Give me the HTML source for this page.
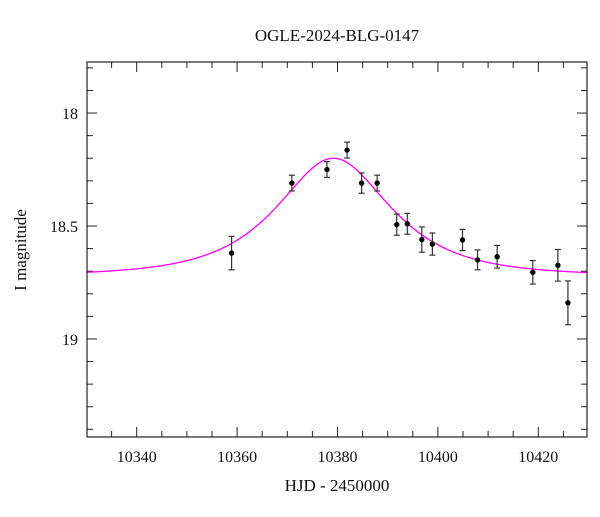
<!DOCTYPE html>
<html><head><meta charset="utf-8"><style>
html,body{margin:0;padding:0;background:#fff;}
svg text{font-family:"Liberation Serif",serif;fill:#111;}
</style></head><body>
<svg id="chart" width="600" height="512" viewBox="0 0 600 512" xmlns="http://www.w3.org/2000/svg">
<text x="337" y="41" font-size="17" text-anchor="middle">OGLE-2024-BLG-0147</text>
<text x="337" y="491" font-size="17" text-anchor="middle">HJD - 2450000</text>
<text x="26" y="250" font-size="17" text-anchor="middle" transform="rotate(-90 26 250)">I magnitude</text>
<g id="ticks"></g>
<g id="curve"></g>
<g id="points"></g>
<rect x="87" y="62" width="500" height="375" fill="none" stroke="#222" stroke-width="1.2"/>
</svg>
<script>
const hjd=[10358.9,10370.9,10377.9,10381.9,10384.8,10387.9,10391.8,10393.9,10396.8,10398.9,10404.9,10407.9,10411.8,10418.9,10423.9,10425.9];
const mag=[18.62,18.31,18.25,18.164,18.31,18.31,18.494,18.49,18.56,18.58,18.562,18.65,18.636,18.705,18.674,18.84];
const err=[0.074,0.035,0.035,0.035,0.045,0.035,0.047,0.046,0.056,0.049,0.047,0.044,0.05,0.052,0.07,0.097];
const xTicks=[10340,10360,10380,10400,10420];
const yTicks=[18,18.5,19];
const model={t0:10379.2,u0:0.74,tE:16,I0:18.72};
const X0=87,X1=587,Y0=62,Y1=437,xmin=10330.1,xmax=10429.7,ymin=17.774,ymax=19.434;
const sx=t=>X0+(t-xmin)/(xmax-xmin)*(X1-X0);
const sy=m=>Y0+(m-ymin)/(ymax-ymin)*(Y1-Y0);
const NS='http://www.w3.org/2000/svg';
function mk(tag,attrs,parent){const e=document.createElementNS(NS,tag);for(const k in attrs)e.setAttribute(k,attrs[k]);parent.appendChild(e);return e;}
const tg=document.getElementById('ticks');
for(let t=10335;t<=10425;t+=5){
  const maj=xTicks.includes(t);const L=maj?10:6;const x=sx(t);
  const a=mk('line',{x1:x,x2:x,y1:Y1,y2:Y1-L,stroke:'#222','stroke-width':1},tg);
  
  const b=mk('line',{x1:x,x2:x,y1:Y0,y2:Y0+L,stroke:'#222','stroke-width':1},tg);
  
}
xTicks.forEach(t=>{const e=mk('text',{x:sx(t),y:462,'font-size':16,'text-anchor':'middle'},tg);e.textContent=t;
  });
for(let i=178;i<=194;i++){const m=i/10;if(m<ymin||m>ymax)continue;
  const maj=yTicks.some(v=>Math.abs(v-m)<1e-6);const L=maj?10:6;const y=sy(m);
  const a=mk('line',{x1:X0,x2:X0+L,y1:y,y2:y,stroke:'#222','stroke-width':1},tg);
  
  const b=mk('line',{x1:X1,x2:X1-L,y1:y,y2:y,stroke:'#222','stroke-width':1},tg);
  
}
yTicks.forEach(m=>{const e=mk('text',{x:78,y:sy(m)+6,'font-size':16,'text-anchor':'end'},tg);e.textContent=m;
  });
let d='';
for(let t=xmin;t<=xmax;t+=0.25){const tau=(t-model.t0)/model.tE;const u=Math.sqrt(model.u0*model.u0+tau*tau);
  const A=(u*u+2)/(u*Math.sqrt(u*u+4));const m=model.I0-2.5*Math.log10(A);d+=(d?'L':'M')+sx(t).toFixed(2)+','+sy(m).toFixed(2);}
const c=mk('path',{d:d,fill:'none',stroke:'#ff00ff','stroke-width':1.3},document.getElementById('curve'));

const pg=document.getElementById('points');
hjd.forEach((t,i)=>{const x=sx(t),y=sy(mag[i]),y1=sy(mag[i]-err[i]),y2=sy(mag[i]+err[i]);
  const g=mk('g',{},pg);
  mk('line',{x1:x,x2:x,y1:y1,y2:y2,stroke:'#333','stroke-width':1.2},g);
  mk('line',{x1:x-3,x2:x+3,y1:y1,y2:y1,stroke:'#333','stroke-width':1.2},g);
  mk('line',{x1:x-3,x2:x+3,y1:y2,y2:y2,stroke:'#333','stroke-width':1.2},g);
  mk('circle',{cx:x,cy:y,r:2.7,fill:'#000'},g);
});
</script>
</body></html>
